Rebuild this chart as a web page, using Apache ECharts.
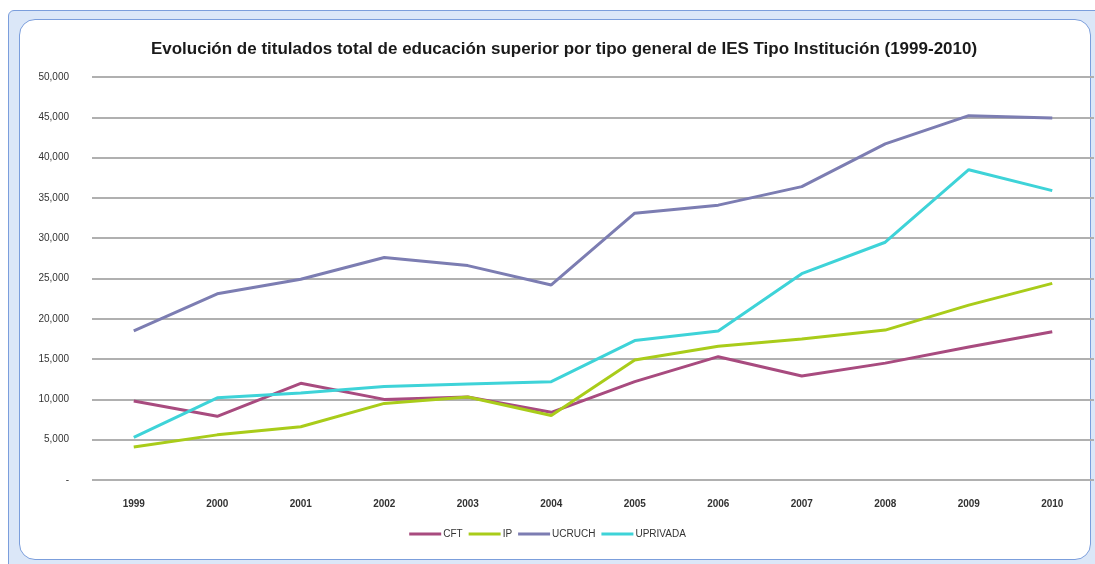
<!DOCTYPE html>
<html>
<head>
<meta charset="UTF-8">
<title>Titulados</title>
<script src="https://cdn.jsdelivr.net/npm/echarts@6/dist/echarts.min.js"></script>
<style>
  html, body { margin: 0; padding: 0; background: #fff; overflow: hidden; }
  #frame {
    position: absolute; left: 8px; top: 10px; width: 1100px; height: 560px;
    background: #dbe7f8; border: 1px solid #7b9edc; border-radius: 6px; box-sizing: border-box;
  }
  #inner {
    position: absolute; left: 19px; top: 19px; width: 1072px; height: 541px;
    background: #fff; border: 1px solid #7b9edc; border-radius: 16px; box-sizing: border-box;
  }
  #main { position: absolute; left: 0; top: 0; width: 1095px; height: 564px; }
</style>
</head>
<body>
<div id="frame"></div>
<div id="inner"></div>
<div id="main"></div>
<script type="text/javascript">
  var years = ['1999', '2000', '2001', '2002', '2003', '2004', '2005', '2006', '2007', '2008', '2009', '2010'];
  var cft      = [9800, 7900, 12000, 10000, 10300, 8400, 12200, 15300, 12900, 14500, 16500, 18400];
  var ip       = [4100, 5600, 6600, 9500, 10300, 8000, 14900, 16600, 17500, 18600, 21700, 24400];
  var ucruch   = [18500, 23100, 24900, 27600, 26600, 24200, 33100, 34100, 36400, 41700, 45200, 44900];
  var uprivada = [5300, 10200, 10800, 11600, 11900, 12200, 17300, 18500, 25600, 29500, 38500, 35900];

  var chart = echarts.init(document.getElementById('main'), null, { renderer: 'canvas' });

  function linea(name, data, color) {
    return {
      name: name,
      type: 'line',
      data: data,
      symbol: 'none',
      lineStyle: { color: color, width: 3 },
      itemStyle: { color: color }
    };
  }

  var options = {
    animation: false,
    backgroundColor: 'transparent',
    title: {
      text: 'Evolución de titulados total de educación superior por tipo general de IES Tipo Institución (1999-2010)',
      left: 559,
      top: 36,
      textAlign: 'center',
      textStyle: { fontFamily: 'Liberation Sans', fontSize: 17, fontWeight: 'bold', color: '#1a1a1a' }
    },
    grid: { left: 92, right: 1, top: 77, bottom: 84 },
    legend: {
      bottom: 20,
      left: 'center',
      itemWidth: 32,
      itemHeight: 3,
      itemGap: 6,
      icon: 'rect',
      textStyle: { fontFamily: 'Liberation Sans', fontSize: 10, color: '#333', padding: [0, 0, 0, -3] },
      data: ['CFT', 'IP', 'UCRUCH', 'UPRIVADA']
    },
    xAxis: {
      type: 'category',
      data: years,
      boundaryGap: true,
      axisLine: { show: false },
      axisTick: { show: false },
      axisLabel: { margin: 19, fontFamily: 'Liberation Sans', fontSize: 10, fontWeight: 'bold', color: '#333' }
    },
    yAxis: {
      type: 'value',
      min: 0,
      max: 50000,
      interval: 5000,
      axisLine: { show: false },
      axisTick: { show: false },
      axisLabel: {
        margin: 23,
        fontFamily: 'Liberation Sans', fontSize: 10, color: '#333',
        formatter: function (v) { return v === 0 ? '-' : v.toLocaleString('en-US'); }
      },
      splitLine: { lineStyle: { color: '#b0b0b0', width: 2 } }
    },
    series: [
      linea('CFT', cft, '#a84b7f'),
      linea('IP', ip, '#a9cc1a'),
      linea('UCRUCH', ucruch, '#7c7db2'),
      linea('UPRIVADA', uprivada, '#3ed3d8')
    ]
  };
  chart.setOption(options);
</script>
</body>
</html>
